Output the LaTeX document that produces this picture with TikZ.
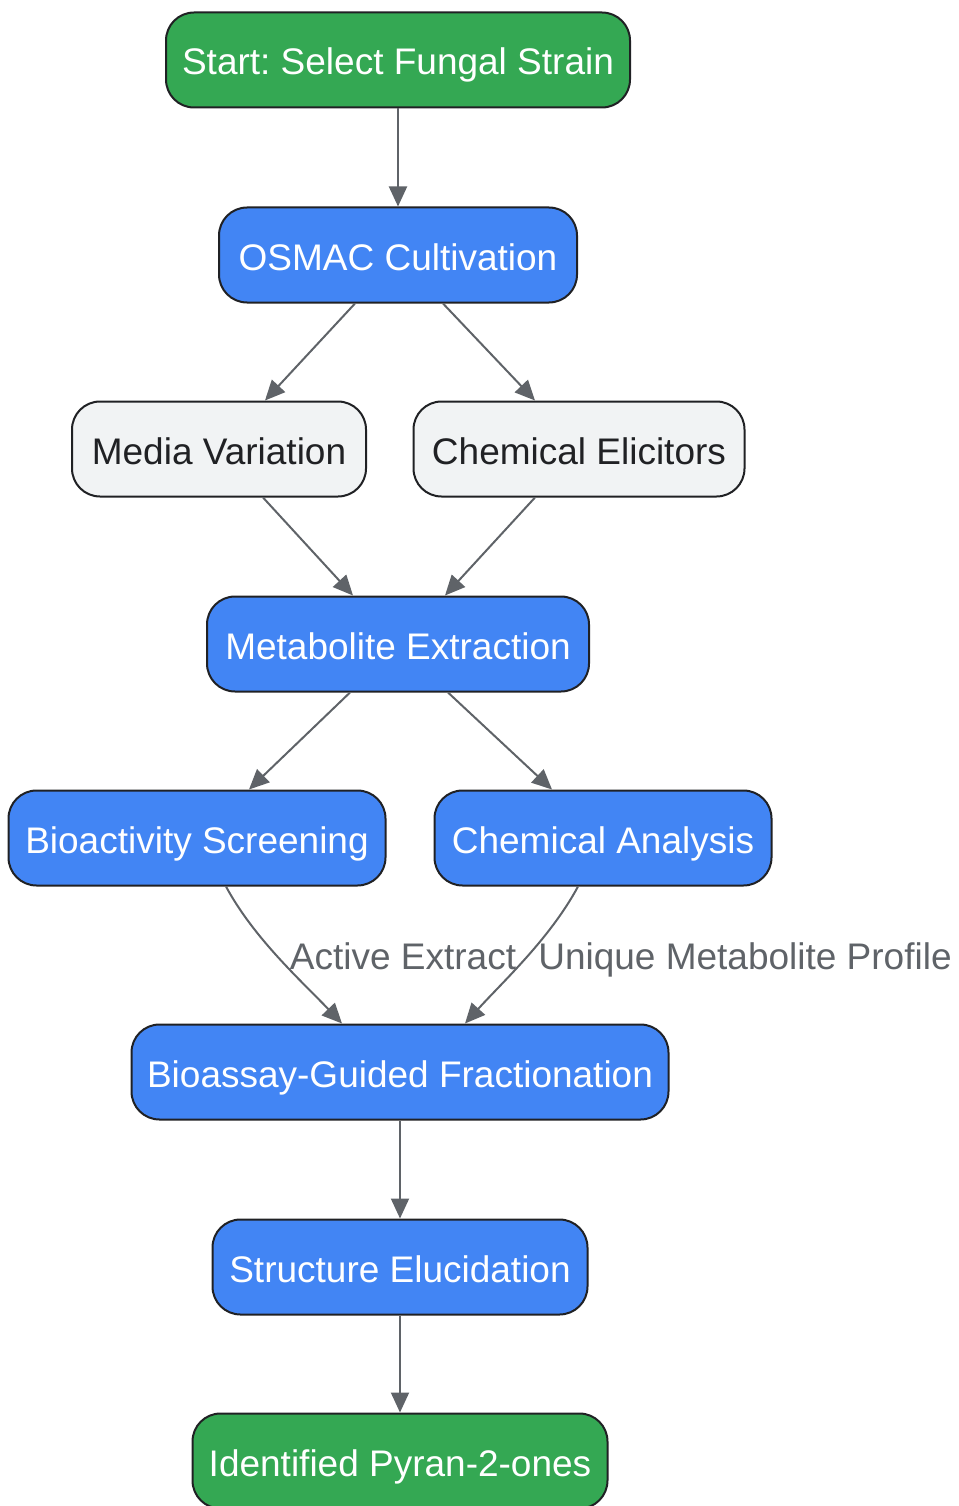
\documentclass[tikz,border=0pt]{standalone}
\usepackage{fontspec}
\setmainfont{Liberation Sans}
\usepackage{tikz}
\usetikzlibrary{arrows.meta}
\frenchspacing

\definecolor{startgreen}{RGB}{52,168,83}
\definecolor{stepblue}{RGB}{66,133,244}
\definecolor{optgray}{RGB}{241,243,244}
\definecolor{borderdark}{RGB}{32,33,36}
\definecolor{linegray}{RGB}{95,99,104}

\tikzset{
  box/.style={draw=borderdark, line width=2pt, rounded corners=28pt,
    minimum height=95pt, inner xsep=0pt, align=center,
    text height=30pt, text depth=0pt,
    font=\fontsize{37pt}{44pt}\selectfont},
  endbox/.style={box, fill=startgreen, text=white},
  stepbox/.style={box, fill=stepblue, text=white},
  optbox/.style={box, fill=optgray, text=borderdark},
  flow/.style={draw=linegray, line width=2pt,
    -{Triangle[length=20pt,width=18pt]}},
  edgelabel/.style={text=linegray, inner sep=0pt,
    text height=30pt, text depth=0pt,
    font=\fontsize{37pt}{44pt}\selectfont}
}

\begin{document}
\begin{tikzpicture}[x=1pt, y=-1pt]
\useasboundingbox (0,0) rectangle (958,1506);

\node[endbox, minimum width=464pt] (start) at (398,60) {Start: Select Fungal Strain};
\node[stepbox, minimum width=358pt] (osmac) at (398,255) {OSMAC Cultivation};
\node[optbox, minimum width=294pt] (media) at (219,449) {Media Variation};
\node[optbox, minimum width=331pt] (elicit) at (579,449) {Chemical Elicitors};
\node[stepbox, minimum width=382pt] (extract) at (398,644) {Metabolite Extraction};
\node[stepbox, minimum width=377pt] (screen) at (197,838) {Bioactivity Screening};
\node[stepbox, minimum width=337pt] (analysis) at (603,838) {Chemical Analysis};
\node[stepbox, minimum width=537pt] (fraction) at (400,1072) {Bioassay-Guided Fractionation};
\node[stepbox, minimum width=375pt] (structure) at (400,1267) {Structure Elucidation};
\node[endbox, minimum width=415pt] (pyranones) at (400,1461) {Identified Pyran-2-ones};

\node[edgelabel] (lblactive) at (403,954) {Active Extract};
\node[edgelabel] (lblunique) at (745,954) {Unique Metabolite Profile};

\draw[flow] (start.south) -- (osmac.north);
\draw[flow] ([xshift=-43pt]osmac.south) -- ([xshift=46pt]media.north);
\draw[flow] ([xshift=45pt]osmac.south) -- ([xshift=-44pt]elicit.north);
\draw[flow] ([xshift=44pt]media.south) -- ([xshift=-45pt]extract.north);
\draw[flow] ([xshift=-44pt]elicit.south) -- ([xshift=47pt]extract.north);
\draw[flow] ([xshift=-48pt]extract.south) -- ([xshift=52pt]screen.north);
\draw[flow] ([xshift=50pt]extract.south) -- ([xshift=-51pt]analysis.north);
\draw[flow] ([xshift=29pt]screen.south) .. controls +(28,52) and +(-40,-42) .. ([xshift=-58pt]fraction.north);
\draw[flow] ([xshift=-25pt]analysis.south) .. controls +(-28,52) and +(38,-42) .. ([xshift=65pt]fraction.north);
\draw[flow] (fraction.south) -- (structure.north);
\draw[flow] (structure.south) -- (pyranones.north);
\end{tikzpicture}
\end{document}
